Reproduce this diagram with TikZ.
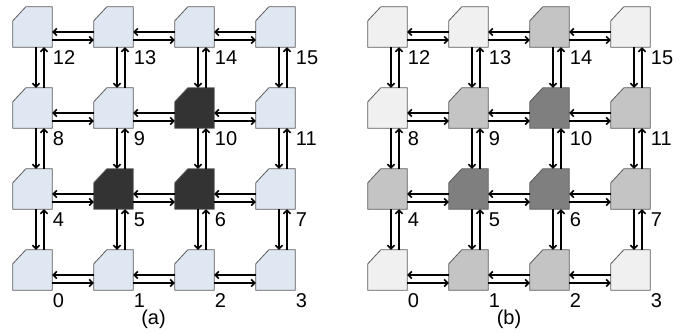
\documentclass[tikz,border=0pt]{standalone}
\usepackage{fontspec}
\setmainfont{Liberation Sans}
\usetikzlibrary{arrows.meta}
\definecolor{lblue}{HTML}{DFE7F3}
\definecolor{dkfill}{HTML}{333333}
\definecolor{lgray}{HTML}{F0F0F0}
\definecolor{mgray}{HTML}{C4C4C4}
\definecolor{dgray}{HTML}{7F7F7F}
\definecolor{edge}{HTML}{5A5A5A}
\begin{document}
\begin{tikzpicture}[x=1pt,y=1pt,
  router/.style={minimum width=39pt, minimum height=40pt, inner sep=0pt, draw=none},
  rshape/.style={draw=edge, line width=0.8pt},
  link/.style={line width=1.6pt, -{Straight Barb[length=3.5pt,width=7pt]}},
  lbl/.style={anchor=north west, inner sep=0pt, font=\fontsize{20}{22}\selectfont},
  captxt/.style={inner sep=0pt, font=\fontsize{20}{22}\selectfont}]
\useasboundingbox (0,0) rectangle (686,334);
% grid builder
\foreach \p/\dx/\cols in {a/0/{lblue,lblue,lblue,lblue,lblue,dkfill,dkfill,lblue,lblue,lblue,dkfill,lblue,lblue,lblue,lblue,lblue},
                          b/355/{lgray,mgray,mgray,lgray,mgray,dgray,dgray,mgray,lgray,mgray,dgray,mgray,lgray,lgray,mgray,lgray}}{
  \foreach \c [count=\k from 0] in \cols {
    \pgfmathtruncatemacro\col{mod(\k,4)}
    \pgfmathtruncatemacro\row{div(\k,4)}
    \node[router] (\p\k) at ({\dx+32.5+81*\col},{64+81*\row}) {};
    \draw[rshape, fill=\c] (\p\k.south west) -- (\p\k.south east) -- (\p\k.north east)
      -- ([xshift=13pt]\p\k.north west) -- ([yshift=-14pt]\p\k.north west) -- cycle;
    \node[lbl] (\p l\k) at ([xshift=0.5pt,yshift=-3pt]\p\k.south east) {\k};
  }
  % horizontal links
  \foreach \r in {0,...,3}{
    \foreach \cc in {0,1,2}{
      \pgfmathtruncatemacro\n{4*\r+\cc}
      \pgfmathtruncatemacro\m{\n+1}
      \draw[link] ([yshift=-5pt]\p\m.west) -- ([yshift=-5pt]\p\n.east);
      \draw[link] ([yshift=-13pt]\p\n.east) -- ([yshift=-13pt]\p\m.west);
    }
  }
  % vertical links
  \foreach \n in {0,...,11}{
    \pgfmathtruncatemacro\m{\n+4}
    \draw[link] ([xshift=3.5pt]\p\m.south) -- ([xshift=3.5pt]\p\n.north);
    \draw[link] ([xshift=11.5pt]\p\n.north) -- ([xshift=11.5pt]\p\m.south);
  }
}
\node[captxt] (capa) at (153.5,14.5) {(a)};
\node[captxt] (capb) at (509,14.5) {(b)};
\end{tikzpicture}
\end{document}
